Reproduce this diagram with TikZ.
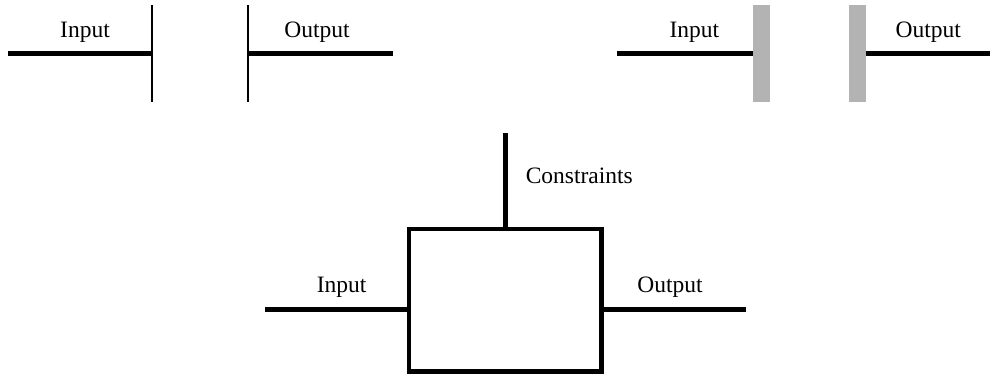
\documentclass[tikz,border=0pt]{standalone}
\usepackage{fontspec}
\setmainfont{Liberation Serif}
\definecolor{bargray}{RGB}{179,179,179}
\begin{document}
\begin{tikzpicture}[x=1pt,y=-1pt,
  wire/.style={line width=5pt},
  thinbar/.style={fill=black,draw=none,minimum width=2pt,minimum height=96.5pt,inner sep=0pt},
  graybar/.style={fill=bargray,draw=none,minimum width=16.5pt,minimum height=96.5pt,inner sep=0pt},
  lbl/.style={font=\fontsize{23.5}{26}\selectfont,inner sep=0pt},
  procbox/.style={draw,line width=4.5pt,minimum width=192.7pt,minimum height=142.7pt,inner sep=0pt}]
\useasboundingbox (0,0) rectangle (990,378);
% top left
\node[thinbar] (b1) at (152.3,53.3) {};
\node[thinbar] (b2) at (248.3,53.3) {};
\coordinate (i1) at (8,53.5);
\coordinate (o1) at (392.7,53.5);
\draw[wire] (i1) -- (i1 -| b1.center);
\draw[wire] (b2.center |- o1) -- (o1);
\node[lbl] (ti1) at (85,32) {Input};
\node[lbl] (to1) at (317,32) {Output};
% top right
\node[graybar] (g1) at (761.7,53.3) {};
\node[graybar] (g2) at (857.5,53.3) {};
\coordinate (i2) at (616.7,53.5);
\coordinate (o2) at (990,53.5);
\draw[wire] (i2) -- (i2 -| g1.west);
\draw[wire] (g2.east |- o2) -- (o2);
\node[lbl] (ti2) at (694.3,32) {Input};
\node[lbl] (to2) at (928.3,32) {Output};
% bottom
\node[procbox] (box) at (505.3,300.3) {};
\coordinate (c) at (505.3,133.3);
\coordinate (i3) at (265,309.3);
\coordinate (o3) at (745.7,309.3);
\draw[wire] (c) -- (box.north);
\draw[wire] (i3) -- (i3 -| box.west);
\draw[wire] (box.east |- o3) -- (o3);
\node[lbl] (tc) at (579.3,175.7) {Constraints};
\node[lbl] (ti3) at (341.7,287.7) {Input};
\node[lbl] (to3) at (670,287.7) {Output};
\end{tikzpicture}
\end{document}
